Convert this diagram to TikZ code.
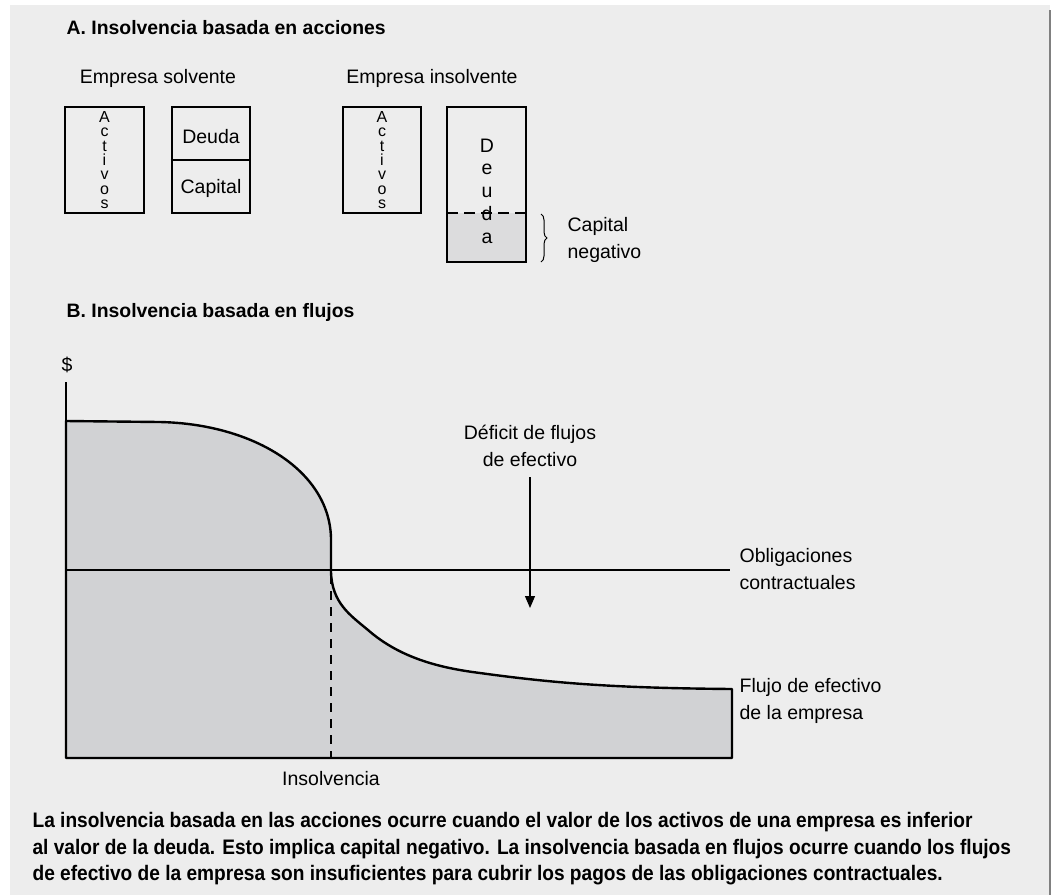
\documentclass[tikz,border=0pt]{standalone}
\usepackage{fontspec}
\setmainfont{Liberation Sans}
\newfontfamily\capfont{Liberation Sans}[FakeStretch=0.91]
\usetikzlibrary{arrows.meta,decorations.pathreplacing}
\definecolor{panel}{HTML}{EDEDED}
\definecolor{chartgray}{HTML}{D1D2D4}
\definecolor{negcap}{HTML}{DCDCDD}
\begin{document}
\begin{tikzpicture}[x=1pt,y=-1pt,line width=1.2pt,
  lab/.style={inner sep=0pt,font=\fontsize{19.5}{27.5}\selectfont},
  head/.style={inner sep=0pt,anchor=west,font=\fontsize{19.4}{24}\selectfont\bfseries},
  box/.style={draw,line width=2.6pt,inner sep=0pt,align=center},
  letters/.style={font=\fontsize{16}{14.3}\selectfont},
  curve/.style={line width=2.4pt,line join=round}]
\useasboundingbox (0,0) rectangle (1052,895);
\fill[white] (0,0) rectangle (1052,895);
\fill[panel] (10,5) rectangle (1050,895);
\draw[gray,line width=1.5pt] (1050,10)--(1050,895);
% A
\node[head] (titA) at (66,28) {A. Insolvencia basada en acciones};
\node[lab] (solv) at (158,78) {Empresa solvente};
\node[box,letters,minimum width=79pt,minimum height=106pt] (act1) at (104.5,160) {A\\c\\t\\i\\v\\o\\s};
\node[box,minimum width=78pt,minimum height=106pt] (bal1) at (211,160) {};
\draw (bal1.west) -- (bal1.east);
\node[lab] (deu1) at (211,137) {Deuda};
\node[lab] (cap1) at (211,188) {Capital};
\node[lab] (insolv) at (432,78) {Empresa insolvente};
\node[box,letters,minimum width=78pt,minimum height=106pt] (act2) at (382,160) {A\\c\\t\\i\\v\\o\\s};
\fill[negcap] (447,213) rectangle (526,262);
\node[box,minimum width=79pt,minimum height=155pt] (bal2) at (486.5,184.5) {};
\draw[dashed,dash pattern=on 11pt off 6pt] (447,213) -- (526,213);
\node[inner sep=0pt,align=center,font=\fontsize{19.5}{22.75}\selectfont] (deu2) at (487,191) {D\\e\\u\\d\\a};
\draw[line width=1pt,decorate,decoration={brace,amplitude=6pt}] (541,214) -- (541,262);
\node[lab,anchor=west,align=left] (negcp) at (567,240) {Capital\\negativo};
% B
\node[head] (titB) at (66,312) {B. Insolvencia basada en flujos};
\node[lab] (dol) at (67,365) {\$};
\draw[line width=1.2pt] (66,382) -- (66,421);
\fill[chartgray] (66,758) -- (66,421) -- (160,422) .. controls (255,424) and (331,472) .. (331,540) -- (331,572) .. controls (332,603) and (350,615) .. (368,630) .. controls (400,658) and (440,668) .. (480,673) .. controls (560,684) and (620,688) .. (732,689) -- (732,758) -- cycle;
\draw (66,570) -- (730,570);
\draw[dashed,dash pattern=on 9pt off 7pt] (331,575) -- (331,758);
\draw[curve] (66,758) -- (66,421) -- (160,422) .. controls (255,424) and (331,472) .. (331,540) -- (331,572) .. controls (332,603) and (350,615) .. (368,630) .. controls (400,658) and (440,668) .. (480,673) .. controls (560,684) and (620,688) .. (732,689) -- (732,758) -- cycle;
\node[lab,align=center] (defc) at (530,446) {Déficit de flujos\\de efectivo};
\coordinate (defend) at (530,608);
\draw[-{Triangle[length=12pt,width=10pt]}] (530,477) -- (defend);
\node[lab,anchor=west,align=left] (oblig) at (739,569) {Obligaciones\\contractuales};
\node[lab,anchor=west,align=left] (flujo) at (739,701) {Flujo de efectivo\\de la empresa};
\node[lab] (insol) at (331,779) {Insolvencia};
\node[inner sep=0pt,anchor=north west,align=left,font=\capfont\bfseries\fontsize{21}{26.5}\selectfont] (capt) at (32,812) {La insolvencia basada en las acciones ocurre cuando el valor de los activos de una empresa es inferior\\al valor de la deuda. Esto implica capital negativo. La insolvencia basada en flujos ocurre cuando los flujos\\de efectivo de la empresa son insuficientes para cubrir los pagos de las obligaciones contractuales.};
\end{tikzpicture}
\end{document}
